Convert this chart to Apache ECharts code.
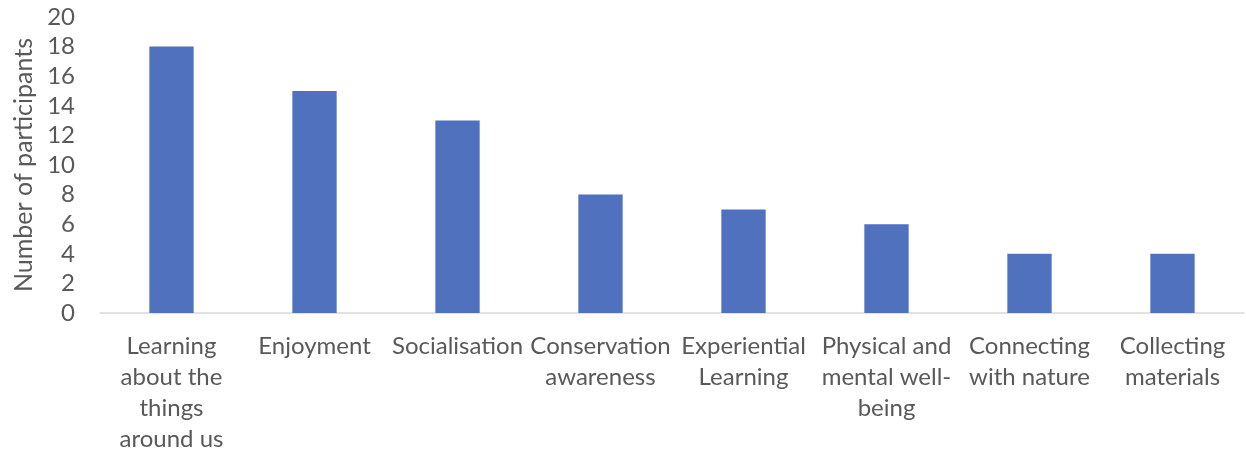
<!DOCTYPE html>
<html>
<head>
<meta charset="utf-8">
<script src="https://cdn.jsdelivr.net/npm/echarts@6/dist/echarts.min.js"></script>
<style>
  html, body { margin: 0; padding: 0; background: #fff; }
  #chart { width: 1246px; height: 458px; }
</style>
</head>
<body>
<div id="chart"></div>
<script>
// Reasons given by participants
const categories = [
  'Learning\nabout the\nthings\naround us',
  'Enjoyment',
  'Socialisation',
  'Conservation\nawareness',
  'Experiential\nLearning',
  'Physical and\nmental well-\nbeing',
  'Connecting\nwith nature',
  'Collecting\nmaterials'
];
const participants = [18, 15, 13, 8, 7, 6, 4, 4];
const yAxisTitle = 'Number of participants';

const textColor = '#595959';
const fontFamily = 'Lato, "Open Sans", sans-serif';

const chart = echarts.init(document.getElementById('chart'), null, { renderer: 'canvas' });
chart.setOption({
  animation: false,
  textStyle: { fontFamily: fontFamily },
  grid: { left: 100, right: 2, top: 17, bottom: 145, containLabel: false },
  xAxis: {
    type: 'category',
    data: categories,
    axisLine: { lineStyle: { color: '#D9D9D9', width: 1.5 } },
    axisTick: { show: false },
    axisLabel: {
      color: textColor,
      fontSize: 24,
      fontFamily: fontFamily,
      lineHeight: 31,
      margin: 18,
      interval: 0,
      align: 'center'
    }
  },
  yAxis: {
    type: 'value',
    min: 0,
    max: 20,
    interval: 2,
    name: yAxisTitle,
    nameLocation: 'middle',
    nameGap: 58,
    nameTextStyle: { color: textColor, fontSize: 25, fontFamily: fontFamily },
    axisLine: { show: false },
    axisTick: { show: false },
    splitLine: { show: false },
    axisLabel: { color: textColor, fontSize: 24, fontFamily: fontFamily, margin: 25 }
  },
  series: [{
    type: 'bar',
    data: participants,
    barWidth: '31%',
    itemStyle: { color: '#4F71BE' }
  }]
});
</script>
</body>
</html>
